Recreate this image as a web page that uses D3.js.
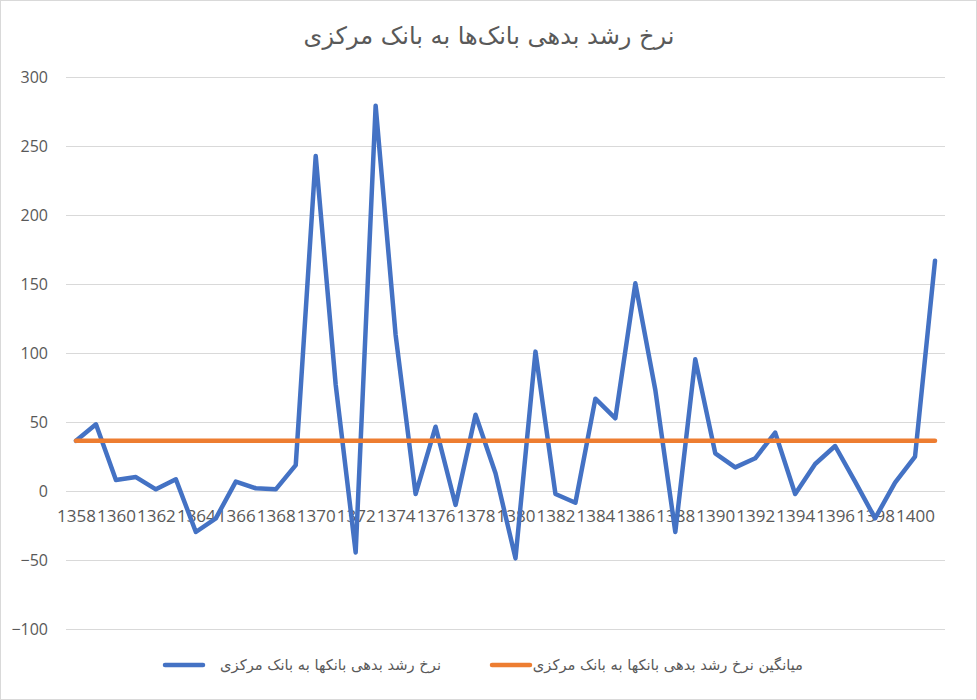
<!DOCTYPE html>
<html>
<head>
<meta charset="utf-8">
<script src="https://cdn.jsdelivr.net/npm/d3@7"></script>
<style>
  body { margin: 0; background: #fff; }
  .grid line { stroke: #d9d9d9; stroke-width: 1; }
  .num { font-family: "Open Sans", sans-serif; fill: #595959; }
  .fa { font-family: "DejaVu Sans", sans-serif; fill: #595959; }
</style>
</head>
<body>
<script>
// Chart size
var svgWidth = 977;
var svgHeight = 700;

// Years (1358 .. 1401)
var years = [1358, 1359, 1360, 1361, 1362, 1363, 1364, 1365, 1366, 1367, 1368,
  1369, 1370, 1371, 1372, 1373, 1374, 1375, 1376, 1377, 1378, 1379, 1380,
  1381, 1382, 1383, 1384, 1385, 1386, 1387, 1388, 1389, 1390, 1391, 1392,
  1393, 1394, 1395, 1396, 1397, 1398, 1399, 1400, 1401];

// Growth rate of bank debt to the central bank (%)
var growthRate = [36.4, 48.3, 8, 10.1, 1.2, 8.5, -29.7, -19.8, 6.8, 2, 1.2,
  18.8, 242.8, 77, -44.5, 279.2, 113, -2.2, 46.6, -10.1, 55.3, 12.8, -48.8,
  101, -2.2, -8.5, 66.9, 52.7, 150.5, 73.2, -29.7, 95.4, 27.3, 17.1, 23.7,
  42.3, -2.2, 19.6, 32.6, 6.8, -19.8, 6, 24.9, 166.9];

// Average growth rate (single value, drawn across all years)
var averageRate = [36.4];

// Y axis ticks
var yTicks = [-100, -50, 0, 50, 100, 150, 200, 250, 300];

var titleText = "نرخ رشد بدهی بانک‌ها به بانک مرکزی";
var seriesNames = ["نرخ رشد بدهی بانکها به بانک مرکزی", "میانگین نرخ رشد بدهی بانکها به بانک مرکزی"];
var colors = ["#4472C4", "#ED7D31"];

var svg = d3.select("body")
  .append("svg")
  .attr("width", svgWidth)
  .attr("height", svgHeight);

// Outer border
svg.append("rect")
  .attr("x", 0.5).attr("y", 0.5)
  .attr("width", svgWidth - 1).attr("height", svgHeight - 1)
  .attr("fill", "#fff")
  .attr("stroke", "#d9d9d9");

// Scales
var xScale = d3.scalePoint()
  .domain(years)
  .range([66, 945])
  .padding(0.5);

var yScale = d3.scaleLinear()
  .domain([-100, 300])
  .range([629, 77]);

// Gridlines
svg.append("g")
  .attr("class", "grid")
  .selectAll("line")
  .data(yTicks)
  .enter()
  .append("line")
  .attr("x1", 66)
  .attr("x2", 945)
  .attr("y1", d => Math.round(yScale(d)) + 0.5)
  .attr("y2", d => Math.round(yScale(d)) + 0.5);

// Left axis labels
var leftAxis = d3.axisLeft(yScale).tickValues(yTicks).tickSize(0).tickPadding(0);
var yAxisG = svg.append("g")
  .attr("transform", "translate(48, 0)")
  .call(leftAxis);
yAxisG.select(".domain").remove();
yAxisG.selectAll("text")
  .attr("class", "num")
  .attr("font-size", 16)
  .style("font-family", null);

// Bottom axis labels (every other year), placed under the zero line
var bottomAxis = d3.axisBottom(xScale)
  .tickValues(years.filter((d, i) => i % 2 === 0))
  .tickSize(0)
  .tickPadding(19);
var xAxisG = svg.append("g")
  .attr("transform", "translate(0, " + yScale(0) + ")")
  .call(bottomAxis);
xAxisG.select(".domain").remove();
xAxisG.selectAll("text")
  .attr("class", "num")
  .attr("font-size", 17)
  .style("font-family", null);

// Main line
var drawLine = d3.line()
  .x((d, i) => xScale(years[i]))
  .y(d => yScale(d));

svg.append("path")
  .attr("d", drawLine(growthRate))
  .attr("fill", "none")
  .attr("stroke", colors[0])
  .attr("stroke-width", 4.5)
  .attr("stroke-linejoin", "round")
  .attr("stroke-linecap", "round");

// Average line
svg.append("line")
  .attr("x1", xScale(years[0]))
  .attr("x2", xScale(years[years.length - 1]))
  .attr("y1", yScale(averageRate[0]))
  .attr("y2", yScale(averageRate[0]))
  .attr("stroke", colors[1])
  .attr("stroke-width", 4.5)
  .attr("stroke-linecap", "round");

// Title
svg.append("text")
  .attr("class", "fa")
  .attr("x", 489)
  .attr("y", 37)
  .attr("text-anchor", "middle")
  .attr("dominant-baseline", "middle")
  .attr("font-size", 24)
  .attr("direction", "rtl")
  .text(titleText);

// Legend
var legendItems = [
  { swatch: 163, textEnd: 441 },
  { swatch: 490, textEnd: 803 }
];
legendItems.forEach(function(item, i) {
  svg.append("line")
    .attr("x1", item.swatch + 2)
    .attr("x2", item.swatch + 40)
    .attr("y1", 665)
    .attr("y2", 665)
    .attr("stroke", colors[i])
    .attr("stroke-width", 4.5)
    .attr("stroke-linecap", "round");
  svg.append("text")
    .attr("class", "fa")
    .attr("x", item.textEnd)
    .attr("y", 666)
    .attr("text-anchor", "start")
    .attr("direction", "rtl")
    .attr("dominant-baseline", "middle")
    .attr("font-size", 14.7)
    .text(seriesNames[i]);
});
</script>
</body>
</html>
